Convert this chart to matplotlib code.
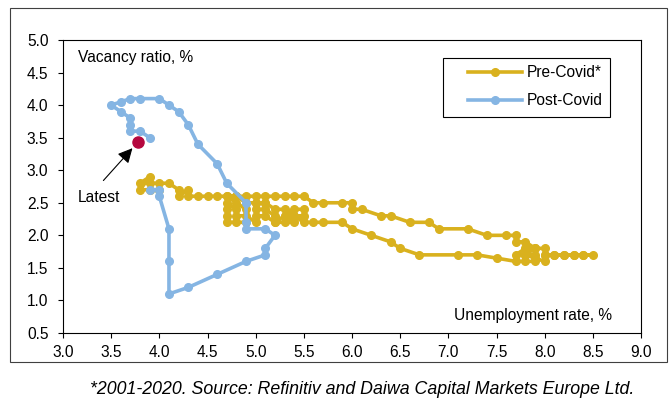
import matplotlib.pyplot as plt
from matplotlib.patches import Rectangle

plt.rcParams['font.family'] = ['Liberation Sans', 'DejaVu Sans']

# Pre-Covid (2001-2020): unemployment rate, vacancy ratio
pre_unemp = [5.1, 5.0, 5.0, 5.1, 5.2, 5.2, 5.1, 5.0, 5.0, 4.9, 4.8, 4.8, 4.7, 4.7, 4.7, 4.7,
             4.8, 4.9, 4.9, 4.8, 4.7, 4.8, 4.9, 5.0, 5.1, 5.2, 5.3, 5.4, 5.5, 5.5, 5.4, 5.3,
             5.4, 5.3, 5.2, 5.3, 5.4, 5.5,
             5.6, 5.7, 5.9, 6.0, 6.2, 6.4, 6.5, 6.7, 7.1, 7.3, 7.5, 7.7, 7.8,
             7.9, 7.9, 7.8, 7.7, 7.8, 7.9, 8.0, 8.0, 8.1, 8.2, 8.3, 8.4, 8.5, 8.4, 8.3, 8.2,
             8.1, 8.0, 8.0, 7.9, 7.8, 7.9, 7.8, 7.7,
             7.7, 7.6, 7.4, 7.2, 6.9, 6.8, 6.6, 6.4, 6.3, 6.1, 6.0, 6.0, 5.9, 5.7, 5.6,
             5.5, 5.4, 5.3, 5.2, 5.1, 5.0, 4.9, 4.8, 4.7, 4.6, 4.5, 4.4, 4.3, 4.3, 4.2, 4.2,
             4.1, 4.0, 3.9, 3.8, 3.9, 3.8, 3.9, 4.0]
pre_vac = [2.5, 2.5, 2.4, 2.4, 2.3, 2.2, 2.3, 2.3, 2.2, 2.3, 2.3, 2.4, 2.5, 2.4, 2.3, 2.2,
           2.2, 2.2, 2.4, 2.5, 2.6, 2.6, 2.5, 2.5, 2.5, 2.4, 2.4, 2.3, 2.3, 2.4, 2.4, 2.3,
           2.2, 2.2, 2.2, 2.3, 2.3, 2.2,
           2.2, 2.2, 2.2, 2.1, 2.0, 1.9, 1.8, 1.7, 1.7, 1.7, 1.65, 1.6, 1.6,
           1.6, 1.7, 1.7, 1.7, 1.8, 1.8, 1.8, 1.7, 1.7, 1.7, 1.7, 1.7, 1.7, 1.7, 1.7, 1.7,
           1.7, 1.7, 1.6, 1.65, 1.7, 1.8, 1.9, 1.9,
           2.0, 2.0, 2.0, 2.1, 2.1, 2.2, 2.2, 2.3, 2.3, 2.4, 2.4, 2.5, 2.5, 2.5, 2.5,
           2.6, 2.6, 2.6, 2.6, 2.6, 2.6, 2.6, 2.6, 2.6, 2.6, 2.6, 2.6, 2.6, 2.7, 2.6, 2.7,
           2.8, 2.8, 2.8, 2.8, 2.9, 2.7, 2.7, 2.7]

# Post-Covid
post_unemp = [3.9, 4.0, 4.0, 4.1, 4.1, 4.1, 4.3, 4.6, 4.9, 5.1, 5.1, 5.2, 5.1, 4.9, 4.9,
              4.9, 4.7, 4.6, 4.4, 4.3, 4.2, 4.1, 4.0, 3.8, 3.7, 3.6, 3.5, 3.6, 3.7, 3.7,
              3.7, 3.8, 3.9]
post_vac = [2.7, 2.7, 2.6, 2.1, 1.6, 1.1, 1.2, 1.4, 1.6, 1.7, 1.8, 2.0, 2.1, 2.1, 2.2,
            2.5, 2.8, 3.1, 3.4, 3.7, 3.9, 4.0, 4.1, 4.1, 4.1, 4.05, 4.0, 3.9, 3.8, 3.7,
            3.6, 3.6, 3.5]

latest_unemp = 3.78
latest_vac = 3.43

gold = '#D9B11E'
blue = '#85B5E3'
fs = 11.2

fig = plt.figure(figsize=(6.7, 4.03), dpi=100)
ax = fig.add_axes([63 / 670, 1 - 333 / 403, 578 / 670, 293 / 403])

ax.plot(pre_unemp, pre_vac, color=gold, lw=2.6, marker='o', ms=5.5, label='Pre-Covid*', zorder=2)
ax.plot(post_unemp, post_vac, color=blue, lw=2.6, marker='o', ms=5.5, label='Post-Covid', zorder=3)
ax.plot([latest_unemp], [latest_vac], 'o', color='#B5083F', ms=8, zorder=4)

ax.annotate('', xy=(latest_unemp - 0.04, latest_vac - 0.06), xytext=(3.40, 2.81),
            arrowprops=dict(arrowstyle='-|>', color='black', lw=0.8, mutation_scale=22), zorder=5)
ax.text(3.155, 2.58, 'Latest', fontsize=fs, ha='left', va='center')

ax.set_xlim(3.0, 9.0)
ax.set_ylim(0.5, 5.0)
ax.set_xticks([3.0 + 0.5 * i for i in range(13)])
ax.set_yticks([0.5 + 0.5 * i for i in range(10)])
ax.xaxis.set_major_formatter(plt.FormatStrFormatter('%.1f'))
ax.yaxis.set_major_formatter(plt.FormatStrFormatter('%.1f'))
ax.tick_params(direction='out', length=3.5, width=0.8, labelsize=fs)
ax.tick_params(axis='y', pad=7)
ax.tick_params(axis='x', pad=5)
for s in ax.spines.values():
    s.set_linewidth(0.8)

ax.text(0.026, 0.9386, 'Vacancy ratio, %', transform=ax.transAxes, fontsize=fs, va='center')
ax.text(0.95, 0.0614, 'Unemployment rate, %', transform=ax.transAxes, fontsize=fs,
        ha='right', va='center')

# legend: box drawn separately so the padding can match
ax.add_patch(Rectangle((0.6574, 0.737), 0.289, 0.2014, transform=ax.transAxes,
                       fill=False, ec='black', lw=0.8, zorder=6))
ax.legend(loc='center left', bbox_to_anchor=(0.7007, 0.841), fontsize=fs, frameon=False,
          handlelength=3.5, borderpad=0, labelspacing=0.85, handletextpad=0.25,
          borderaxespad=0)

fig.patches.append(Rectangle((10 / 670, 1 - 362 / 403), 657 / 670, 354 / 403,
                             transform=fig.transFigure, fill=False, ec='#404040', lw=0.8))

fig.text(0.541, 1 - 389 / 403, '*2001-2020. Source: Refinitiv and Daiwa Capital Markets Europe Ltd.',
         ha='center', va='center', fontsize=12.8, style='italic')

fig.savefig('out.png', dpi=100)
